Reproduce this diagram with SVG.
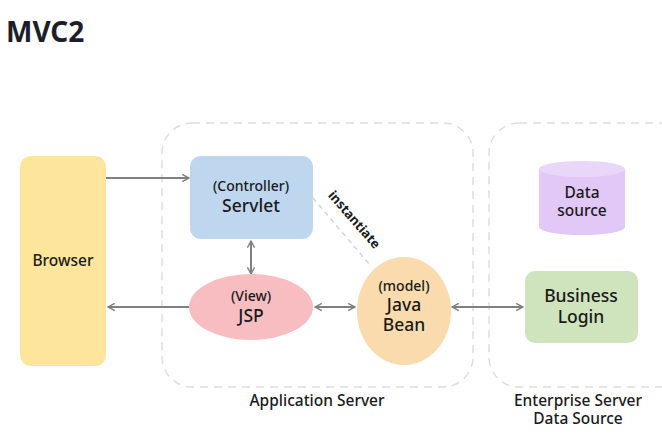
<svg xmlns="http://www.w3.org/2000/svg" width="662" height="446" viewBox="0 0 662 446">
<defs>
<style>
text{font-family:"Noto Sans","Noto Sans CJK KR",sans-serif;fill:#1a1a1a;text-anchor:middle;}
.sm{font-size:14px;font-weight:500;}
.lg{font-size:17.5px;font-weight:500;}
.lbl{font-size:15.5px;font-weight:500;}
.conn{stroke:#808080;stroke-width:2;fill:none;}
.grp{fill:none;stroke:#dedede;stroke-width:1.5;stroke-dasharray:8 6;}
</style>
<marker id="ah" viewBox="0 0 10 10" refX="9" refY="5" markerWidth="9" markerHeight="9" orient="auto-start-reverse" markerUnits="userSpaceOnUse">
<path d="M1.5,1 L9,5 L1.5,9" fill="none" stroke="#808080" stroke-width="1.6"/>
</marker>
</defs>
<rect width="662" height="446" fill="#ffffff"/>
<text x="6" y="42" style="font-size:28px;font-weight:700;text-anchor:start;fill:#1e1e28">MVC2</text>

<g id="app-server">
<rect class="grp" x="162" y="123" width="311" height="264" rx="30"/>
<text class="lbl" x="317" y="406">Application Server</text>
</g>
<g id="enterprise-server">
<rect class="grp" x="489" y="123" width="200" height="264" rx="30"/>
<text class="lbl" x="578" y="406">Enterprise Server</text>
<text class="lbl" x="578" y="424">Data Source</text>
</g>

<g id="connectors">
<line class="conn" x1="106" y1="178" x2="189" y2="178" marker-end="url(#ah)"/>
<line class="conn" x1="190" y1="307" x2="108" y2="307" marker-end="url(#ah)"/>
<line class="conn" x1="251" y1="241" x2="251" y2="274" marker-start="url(#ah)" marker-end="url(#ah)"/>
<line class="conn" x1="315" y1="307" x2="355" y2="307" marker-start="url(#ah)" marker-end="url(#ah)"/>
<line class="conn" x1="452" y1="307" x2="523" y2="307" marker-start="url(#ah)" marker-end="url(#ah)"/>
<line x1="313" y1="198" x2="370" y2="265" stroke="#d6d6d6" stroke-width="1.5" stroke-dasharray="5 4"/>
<text x="354" y="224" transform="rotate(49 354 220)" style="font-size:13px;font-weight:700;">instantiate</text>
</g>

<g id="browser">
<rect x="20" y="156" width="86" height="210" rx="11" fill="#fde69b"/>
<text class="lbl" x="63" y="266">Browser</text>
</g>
<g id="servlet">
<rect x="190" y="156" width="123" height="83" rx="11" fill="#bed7ef"/>
<text class="sm" x="251" y="191">(Controller)</text>
<text class="lg" x="251" y="212">Servlet</text>
</g>
<g id="jsp">
<ellipse cx="251" cy="307" rx="62" ry="33" fill="#f8bdc1"/>
<text class="sm" x="251" y="301">(View)</text>
<text class="lg" x="251" y="322">JSP</text>
</g>
<g id="javabean">
<ellipse cx="404" cy="311" rx="47" ry="54" fill="#f9dbae"/>
<text class="sm" x="404" y="291">(model)</text>
<text class="lg" x="404" y="311">Java</text>
<text class="lg" x="404" y="331">Bean</text>
</g>
<g id="datasource">
<path d="M539,169 L539,227 A43,8 0 0 0 625,227 L625,169 Z" fill="#e1c8f6"/>
<ellipse cx="582" cy="169" rx="43" ry="8" fill="#e9d6f9"/>
<text class="lbl" x="582" y="198">Data</text>
<text class="lbl" x="582" y="216">source</text>
</g>
<g id="business">
<rect x="525" y="271" width="113" height="72" rx="10" fill="#cfe3bd"/>
<text class="lg" x="581" y="302">Business</text>
<text class="lg" x="581" y="323">Login</text>
</g>
</svg>
